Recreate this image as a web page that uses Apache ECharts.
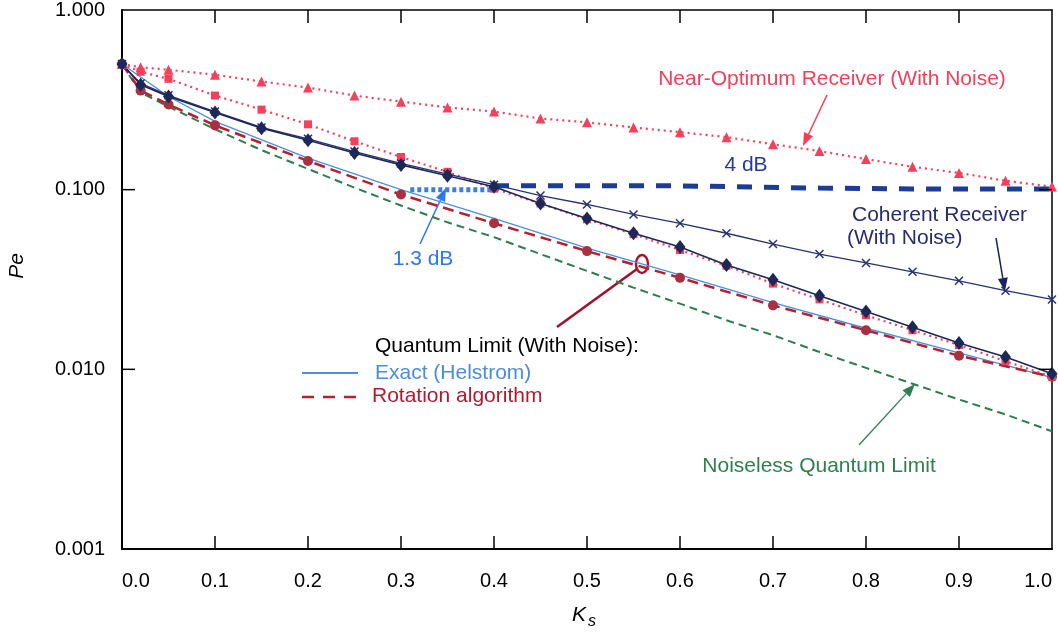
<!DOCTYPE html>
<html>
<head>
<meta charset="utf-8">
<script src="https://cdn.jsdelivr.net/npm/echarts@6/dist/echarts.min.js"></script>
<style>
  html, body { margin: 0; padding: 0; background: #fff; }
  #chart { width: 1058px; height: 634px; }
</style>
</head>
<body>
<div id="chart"></div>
<script>
// Ks values shared by most curves
const ks = [0, 0.02, 0.05, 0.1, 0.15, 0.2, 0.25, 0.3, 0.35, 0.4, 0.45, 0.5,
  0.55, 0.6, 0.65, 0.7, 0.75, 0.8, 0.85, 0.9, 0.95, 1.0]

// near-optimum receiver (with noise), triangles
const nearOpt = [0.50, 0.48, 0.465, 0.436, 0.40, 0.37, 0.334, 0.309, 0.287, 0.272, 0.249,
  0.237, 0.222, 0.209, 0.196, 0.179, 0.164, 0.148, 0.134, 0.124, 0.112, 0.104]
// red squares, dotted
const redSquares = [0.50, 0.453, 0.414, 0.334, 0.279, 0.231, 0.186, 0.152, 0.1257, 0.1013, 0.0837,
  0.0684, 0.0565, 0.0461, 0.0377, 0.0300, 0.0245, 0.0200, 0.0165, 0.01365, 0.0111, 0.0091]
// navy diamonds
const diamonds = [0.50, 0.384, 0.330, 0.269, 0.220, 0.1886, 0.160, 0.1374, 0.1194, 0.1038, 0.0837,
  0.0692, 0.0572, 0.0479, 0.0381, 0.0315, 0.0257, 0.0210, 0.01715, 0.0140, 0.01172, 0.00945]
// coherent receiver (with noise)
const coherent = [0.50, 0.39, 0.335, 0.272, 0.222, 0.192, 0.163, 0.140, 0.122, 0.1066, 0.0927,
  0.0827, 0.0728, 0.0650, 0.0572, 0.0498, 0.0438, 0.0391, 0.0349, 0.0311, 0.0274, 0.0245]
// noiseless quantum limit
const noiseless = [0.50, 0.347, 0.290, 0.217, 0.166, 0.1305, 0.1026, 0.0816, 0.0658, 0.0544, 0.0438,
  0.0353, 0.0285, 0.0232, 0.01874, 0.01549, 0.01248, 0.01019, 0.00832, 0.00679, 0.00561, 0.00452]

// rotation algorithm
const rotKs = [0, 0.02, 0.05, 0.1, 0.2, 0.3, 0.4, 0.5, 0.6, 0.7, 0.8, 0.9, 1.0]
const rotation = [0.50, 0.356, 0.298, 0.228, 0.1445, 0.0939, 0.0650, 0.0455, 0.0323, 0.0227, 0.0165, 0.0119, 0.0091]

// exact (Helstrom)
const helKs = [0, 0.05, 0.1, 0.2, 0.3, 0.4, 0.5, 0.6, 0.7, 0.8, 0.9, 1.0]
const helstrom = [0.50, 0.330, 0.240, 0.150, 0.100, 0.0692, 0.0473, 0.0336, 0.0235, 0.01693, 0.01233, 0.00898]

// 4 dB and 1.3 dB gap lines
const gap4Ks = [0.4, 0.6, 0.65, 0.75, 0.85, 1.0]
const gap4 = [0.105, 0.105, 0.104, 0.102, 0.101, 0.101]
const gap13Ks = [0.31, 0.4]
const gap13 = [0.100, 0.100]

// tick positions
const xTicks = [0.1, 0.2, 0.3, 0.4, 0.5, 0.6, 0.7, 0.8, 0.9]
const yTicks = [0.01, 0.1]
const yTickLabels = ['1.000', '0.100', '0.010', '0.001']

const FONT = '"Liberation Sans", Arial, sans-serif'
const TICK = 13
const zip = (xs, ys) => xs.map((x, i) => [x, ys[i]])

// arrow for annotations
const arrow = (x1, y1, x2, y2, color, w) => {
  const a = Math.atan2(y2 - y1, x2 - x1)
  const L = 13
  const W = 5
  const bx = x2 - L * Math.cos(a)
  const by = y2 - L * Math.sin(a)
  const px = -Math.sin(a) * W
  const py = Math.cos(a) * W
  return [
    { type: 'line', shape: { x1, y1, x2: bx, y2: by }, style: { stroke: color, lineWidth: w } },
    { type: 'polygon', shape: { points: [[x2, y2], [bx + px, by + py], [bx - px, by - py]] }, style: { fill: color } },
  ]
}

const label = (text, x, y, color, align) => ({
  type: 'text',
  x,
  y,
  style: {
    text,
    fill: color,
    font: '21px ' + FONT,
    textAlign: align || 'left',
    textVerticalAlign: 'middle',
  },
})

const tickStyle = { stroke: '#000', lineWidth: 1.5 }

// x ticks at bottom and top, placed by the axes
const renderXTick = (params, api) => {
  const v = api.value(0)
  const b = api.coord([v, 0.001])
  const t = api.coord([v, 1])
  return {
    type: 'group',
    children: [
      { type: 'line', shape: { x1: b[0], y1: b[1], x2: b[0], y2: b[1] - TICK }, style: tickStyle },
      { type: 'line', shape: { x1: t[0], y1: t[1], x2: t[0], y2: t[1] + TICK }, style: tickStyle },
    ],
  }
}

// y ticks at left and right
const renderYTick = (params, api) => {
  const v = api.value(1)
  const l = api.coord([0, v])
  const r = api.coord([1, v])
  return {
    type: 'group',
    children: [
      { type: 'line', shape: { x1: l[0], y1: l[1], x2: l[0] + TICK, y2: l[1] }, style: tickStyle },
      { type: 'line', shape: { x1: r[0], y1: r[1], x2: r[0] - TICK, y2: r[1] }, style: tickStyle },
    ],
  }
}

const chart = echarts.init(document.getElementById('chart'))

const option = {
  animation: false,
  backgroundColor: '#fff',
  grid: { left: 122, right: 6, top: 5, bottom: 85 },
  xAxis: [
    {
      type: 'value',
      position: 'bottom',
      min: 0,
      max: 1,
      interval: 0.1,
      axisLine: { show: true, onZero: false, lineStyle: { color: '#000', width: 2 } },
      axisTick: { show: false },
      axisLabel: {
        formatter: (v) => v.toFixed(1),
        color: '#000',
        fontSize: 20,
        fontFamily: FONT,
        margin: 22,
        alignMinLabel: 'left',
        alignMaxLabel: 'right',
      },
      splitLine: { show: false },
    },
    {
      type: 'value',
      position: 'top',
      min: 0,
      max: 1,
      interval: 0.1,
      axisLine: { show: true, onZero: false, lineStyle: { color: '#000', width: 1.5 } },
      axisTick: { show: false },
      axisLabel: { show: false },
      splitLine: { show: false },
    },
  ],
  yAxis: [
    {
      type: 'log',
      logBase: 10,
      position: 'left',
      min: 0.001,
      max: 1,
      axisLine: { show: true, onZero: false, lineStyle: { color: '#000', width: 2 } },
      axisTick: { show: false },
      axisLabel: {
        formatter: (v) => {
          const s = v.toFixed(3)
          return yTickLabels.includes(s) ? s : ''
        },
        color: '#000',
        fontSize: 20,
        fontFamily: FONT,
        margin: 17,
      },
      splitLine: { show: false },
    },
    {
      type: 'log',
      logBase: 10,
      min: 0.001,
      max: 1,
      position: 'right',
      axisLine: { show: true, onZero: false, lineStyle: { color: '#000', width: 1.5 } },
      axisTick: { show: false },
      axisLabel: { show: false },
      splitLine: { show: false },
    },
  ],
  series: [
    {
      name: 'Noiseless Quantum Limit',
      type: 'line',
      data: zip(ks, noiseless),
      showSymbol: false,
      lineStyle: { color: '#2e7d4f', width: 2, type: [8, 5] },
    },
    {
      name: 'Exact (Helstrom)',
      type: 'line',
      data: zip(helKs, helstrom),
      showSymbol: false,
      lineStyle: { color: '#4a90e2', width: 1.3 },
    },
    {
      name: 'Rotation algorithm',
      type: 'line',
      data: zip(rotKs, rotation),
      symbol: 'circle',
      symbolSize: 10,
      itemStyle: { color: '#a83040' },
      lineStyle: { color: '#b5202e', width: 2.5, type: [11, 6] },
    },
    {
      name: 'Red squares',
      type: 'line',
      data: zip(ks, redSquares),
      symbol: 'rect',
      symbolSize: 8,
      itemStyle: { color: '#f4405c' },
      lineStyle: { color: '#f4405c', width: 2.2, type: [2, 4] },
    },
    {
      name: 'Near-Optimum Receiver',
      type: 'line',
      data: zip(ks, nearOpt),
      symbol: 'triangle',
      symbolSize: 10,
      itemStyle: { color: '#f4405c' },
      lineStyle: { color: '#f4405c', width: 2.2, type: [2, 4] },
    },
    {
      name: 'Coherent Receiver',
      type: 'line',
      data: zip(ks, coherent),
      symbol: 'path://M0,0L10,10M10,0L0,10',
      symbolSize: 8,
      itemStyle: { color: 'rgba(0,0,0,0)', borderColor: '#2a3270', borderWidth: 1.5 },
      lineStyle: { color: '#2a3270', width: 1.3 },
    },
    {
      name: 'Diamonds',
      type: 'line',
      data: zip(ks, diamonds),
      symbol: 'diamond',
      symbolSize: [11, 14],
      itemStyle: { color: '#1b2858' },
      lineStyle: { color: '#1b2858', width: 1.6 },
    },
    {
      name: '4 dB',
      type: 'line',
      data: zip(gap4Ks, gap4),
      showSymbol: false,
      lineStyle: { color: '#1c3c96', width: 5, type: [15, 12] },
    },
    {
      name: '1.3 dB',
      type: 'line',
      data: zip(gap13Ks, gap13),
      showSymbol: false,
      lineStyle: { color: '#3b7de0', width: 5, type: [4, 3] },
    },
    {
      name: 'x ticks',
      type: 'custom',
      silent: true,
      clip: false,
      z: 10,
      data: xTicks.map((v) => [v, 0.01]),
      renderItem: renderXTick,
    },
    {
      name: 'y ticks',
      type: 'custom',
      silent: true,
      clip: false,
      z: 10,
      data: yTicks.map((v) => [0.5, v]),
      renderItem: renderYTick,
    },
  ],
  graphic: [
    // axis names
    {
      type: 'text',
      x: 17,
      y: 266,
      rotation: Math.PI / 2,
      style: { text: 'Pe', fill: '#000', font: 'italic 21px ' + FONT, textAlign: 'center', textVerticalAlign: 'middle' },
    },
    { type: 'text', x: 579, y: 615, style: { text: 'K', fill: '#000', font: 'italic 21px ' + FONT, textAlign: 'center', textVerticalAlign: 'middle' } },
    { type: 'text', x: 592, y: 622, style: { text: 's', fill: '#000', font: 'italic 16px ' + FONT, textAlign: 'center', textVerticalAlign: 'middle' } },

    // annotations
    label('Near-Optimum Receiver (With Noise)', 832, 79, '#f0405a', 'center'),
    ...arrow(827, 95, 803, 146, '#f0405a', 1.5),
    label('4 dB', 746, 165, '#28389a', 'center'),
    label('Coherent Receiver', 852, 215, '#262c6e'),
    label('(With Noise)', 847, 238, '#262c6e'),
    ...arrow(996, 238, 1005, 291, '#1b2460', 1.5),
    label('1.3 dB', 423, 259, '#2a78f0', 'center'),
    ...arrow(420, 244, 446, 188, '#2a78f0', 1.5),
    label('Noiseless Quantum Limit', 819, 466, '#2e8050', 'center'),
    ...arrow(859, 445, 915, 384, '#2e8050', 1.3),
    {
      type: 'line',
      shape: { x1: 557, y1: 327, x2: 637, y2: 269 },
      style: { stroke: '#a51028', lineWidth: 2.6 },
    },
    {
      type: 'ellipse',
      shape: { cx: 642, cy: 264, rx: 6, ry: 9 },
      style: { fill: 'none', stroke: '#a51028', lineWidth: 2.4 },
    },

    // hand-made legend
    label('Quantum Limit (With Noise):', 375, 346, '#000'),
    { type: 'line', shape: { x1: 302, y1: 373, x2: 358, y2: 373 }, style: { stroke: '#4a90e2', lineWidth: 1.8 } },
    label('Exact (Helstrom)', 375, 373, '#4a8de0'),
    { type: 'line', shape: { x1: 302, y1: 397, x2: 358, y2: 397 }, style: { stroke: '#b5202e', lineWidth: 2.5, lineDash: [12, 9] } },
    label('Rotation algorithm', 372, 396, '#b01a30'),
  ],
}

option && chart.setOption(option)
</script>
</body>
</html>
